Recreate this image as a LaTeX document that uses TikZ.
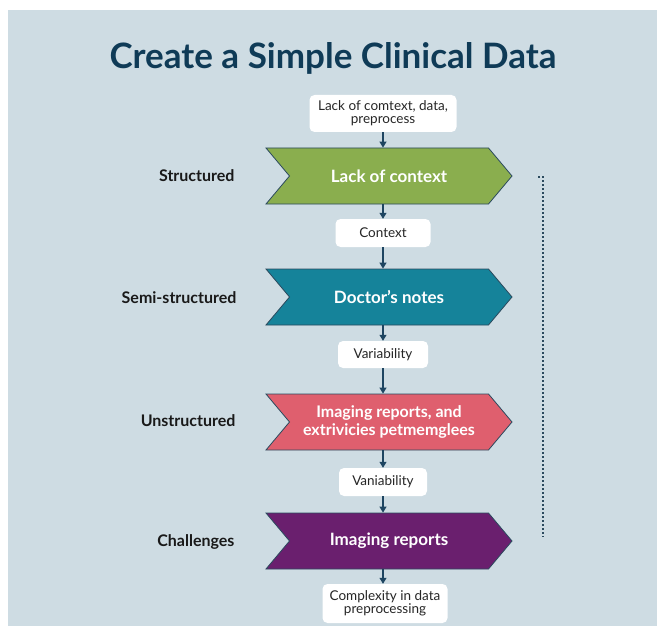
\documentclass[tikz,border=0pt]{standalone}
\usepackage{fontspec}
\setmainfont{Lato}
\usetikzlibrary{shapes.symbols,arrows.meta}
\definecolor{bgc}{HTML}{CEDCE3}
\definecolor{titlec}{HTML}{0F3B57}
\definecolor{greenc}{HTML}{8AAE4E}
\definecolor{tealc}{HTML}{15839A}
\definecolor{pinkc}{HTML}{DF5F6E}
\definecolor{purplec}{HTML}{6A1F6E}
\definecolor{edgec}{HTML}{2B4A5E}
\definecolor{arrc}{HTML}{1E4561}
\tikzset{
  chev/.style={signal, signal to=east, signal from=west, signal pointer angle=100,
    minimum width=246pt, minimum height=56pt, inner sep=0pt, draw=edgec, line width=0.8pt,
    text=white, font=\bfseries\fontsize{17}{19}\selectfont, align=center},
  wbox/.style={fill=white, rounded corners=5pt, inner sep=0pt, align=center,
    font=\fontsize{13.5}{15}\selectfont, text=black!85},
  lab/.style={anchor=east, font=\bfseries\fontsize{16}{18}\selectfont, text=black!90},
  arr/.style={draw=arrc, line width=1.1pt, -{Triangle[width=7pt,length=6pt]}}
}
\begin{document}
\begin{tikzpicture}[x=1pt,y=-1pt]
\useasboundingbox (0,0) rectangle (657,626);
\fill[white] (0,0) rectangle (657,626);
\fill[bgc] (8,10) rectangle (657,626);
\node[font=\bfseries\fontsize{35}{38}\selectfont, text=titlec] (title) at (333,58) {Create a Simple Clinical Data};

\node[wbox, minimum width=147pt, minimum height=37pt] (b1) at (383,113.5) {Lack of comtext, data,\\[-2pt]preprocess};
\node[chev, fill=greenc] (c1) at (389,176) {Lack of context};
\node[wbox, minimum width=95pt, minimum height=28pt] (b2) at (383,233) {Context};
\node[chev, fill=tealc] (c2) at (389,297) {Doctor’s notes};
\node[wbox, minimum width=90pt, minimum height=27pt] (b3) at (383,354.5) {Variability};
\node[chev, fill=pinkc, font=\bfseries\fontsize{16}{18}\selectfont] (c3) at (389,422) {Imaging reports, and\\extrivicies petmemglees};
\node[wbox, minimum width=88pt, minimum height=28pt] (b4) at (383,482) {Vaniability};
\node[chev, fill=purplec] (c4) at (389,541) {Imaging reports};
\node[wbox, minimum width=125pt, minimum height=39pt] (b5) at (385,603.5) {Complexity in data\\[-2pt]preprocessing};

\node[lab] (l1) at (238,176) {Structured};
\node[lab] (l2) at (240,298) {Semi-structured};
\node[lab] (l3) at (239,421) {Unstructured};
\node[lab] (l4) at (238,542) {Challenges};

\draw[arr] (b1.south -| 383,0) -- (c1.north -| 383,0);
\draw[arr] (c1.south -| 383,0) -- (b2.north -| 383,0);
\draw[arr] (b2.south -| 383,0) -- (c2.north -| 383,0);
\draw[arr] (c2.south -| 383,0) -- (b3.north -| 383,0);
\draw[arr] (b3.south -| 383,0) -- (c3.north -| 383,0);
\draw[arr] (c3.south -| 383,0) -- (b4.north -| 383,0);
\draw[arr] (b4.south -| 383,0) -- (c4.north -| 383,0);
\draw[arr] (c4.south -| 383,0) -- (b5.north -| 383,0);

\coordinate (d0) at (538,177);
\coordinate (d1) at (543,177);
\coordinate (d2) at (543,537);
\draw[edgec, line width=1.3pt, dash pattern=on 1.6pt off 2.4pt] (d0) -- (d1) -- (d2);
\end{tikzpicture}
\end{document}
